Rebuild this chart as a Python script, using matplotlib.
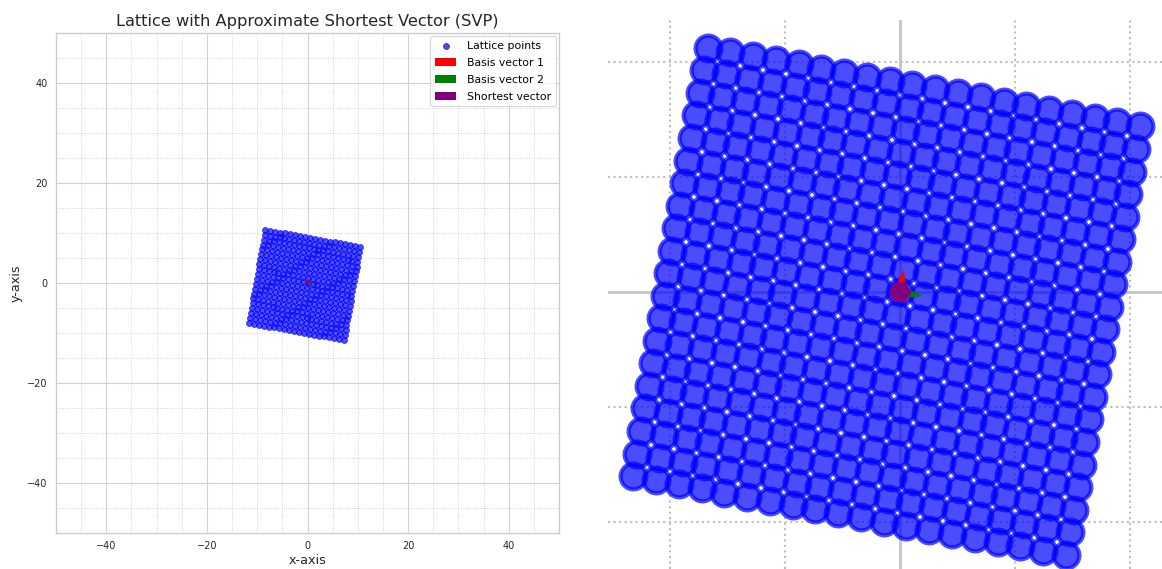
import matplotlib
matplotlib.use("Agg")
import matplotlib.pyplot as plt
from matplotlib.ticker import MultipleLocator
import numpy as np

# ---------------------------------------------------------------
#   data
# ---------------------------------------------------------------
basis_1 = [0.17, 0.98]          # red arrow
basis_2 = [0.99, -0.18]         # green arrow
shortest = [0.0, 0.0]           # purple dot at the origin
coeffs = np.arange(-10, 10)     # 20 x 20 integer combinations
axis_lim = [-50, 50]

ci, cj = np.meshgrid(coeffs, coeffs)
pts_x = cj.ravel() * basis_1[0] + ci.ravel() * basis_2[0]
pts_y = cj.ravel() * basis_1[1] + ci.ravel() * basis_2[1]

grid_major = "#d2d2d2"
grid_minor = "#c8c8c8"
text_col = "#262626"

fig = plt.figure(figsize=(11.62, 5.69), dpi=100)

# ---------------------------------------------------------------
#   left: full view
# ---------------------------------------------------------------
ax = fig.add_axes([0.0482, 0.0633, 0.4329, 0.8787])
ax.scatter(pts_x, pts_y, s=18, color="blue", alpha=0.7, linewidths=0.65,
           label="Lattice points", zorder=2)
ax.quiver(0, 0, basis_1[0], basis_1[1], angles="xy", scale_units="xy", scale=1,
          color="red", label="Basis vector 1", zorder=3)
ax.quiver(0, 0, basis_2[0], basis_2[1], angles="xy", scale_units="xy", scale=1,
          color="green", label="Basis vector 2", zorder=3)
ax.quiver(0, 0, shortest[0], shortest[1], angles="xy", scale_units="xy", scale=1,
          color="purple", width=0.0095, label="Shortest vector", zorder=4)

ax.set_xlim(axis_lim)
ax.set_ylim(axis_lim)
ax.xaxis.set_major_locator(MultipleLocator(20))
ax.yaxis.set_major_locator(MultipleLocator(20))
ax.xaxis.set_minor_locator(MultipleLocator(5))
ax.yaxis.set_minor_locator(MultipleLocator(5))
ax.grid(which="major", color=grid_major, linewidth=0.8)
ax.grid(which="minor", color=grid_minor, linestyle=":", linewidth=0.6)
ax.set_axisbelow(True)
ax.tick_params(which="both", length=0, labelsize=7, labelcolor=text_col, pad=6)
for sp in ax.spines.values():
    sp.set_color("#cccccc")
    sp.set_linewidth(1.0)

ax.set_title("Lattice with Approximate Shortest Vector (SVP)", fontsize=11.7,
             color=text_col, pad=5)
ax.set_xlabel("x-axis", fontsize=9.2, color=text_col, labelpad=2)
ax.set_ylabel("y-axis", fontsize=9.2, color=text_col, labelpad=3)

leg = ax.legend(loc="upper right", fontsize=7.8, borderaxespad=0.3,
                labelspacing=0.65, handletextpad=1.0,
                frameon=True, fancybox=True, edgecolor="#cccccc")
leg.get_frame().set_linewidth(0.8)

# ---------------------------------------------------------------
#   right: zoom on the lattice
# ---------------------------------------------------------------
az = fig.add_axes([0.5232, 0.0, 0.4768, 0.9649])
az.scatter(pts_x, pts_y, s=345, color="blue", alpha=0.7, linewidths=3.0, zorder=2)
az.quiver(0, 0, basis_1[0], basis_1[1], angles="xy", scale_units="xy", scale=1,
          color="red", width=0.025, zorder=3)
az.quiver(0, 0, basis_2[0], basis_2[1], angles="xy", scale_units="xy", scale=1,
          color="green", width=0.025, zorder=3)
az.quiver(0, 0, shortest[0], shortest[1], angles="xy", scale_units="xy", scale=1,
          color="purple", width=0.0415, zorder=4)

az.set_xlim(-12.70, 11.39)
az.set_ylim(-12.04, 11.83)
az.xaxis.set_major_locator(MultipleLocator(20))
az.yaxis.set_major_locator(MultipleLocator(20))
az.xaxis.set_minor_locator(MultipleLocator(5))
az.yaxis.set_minor_locator(MultipleLocator(5))
az.grid(which="major", color="#c8c8c8", linewidth=2.2)
az.grid(which="minor", color="#bdbdbd", linestyle=":", linewidth=1.5)
az.set_axisbelow(True)
az.tick_params(which="both", length=0, labelbottom=False, labelleft=False)
for sp in az.spines.values():
    sp.set_visible(False)

fig.savefig("out.png", dpi=100, facecolor="white")
